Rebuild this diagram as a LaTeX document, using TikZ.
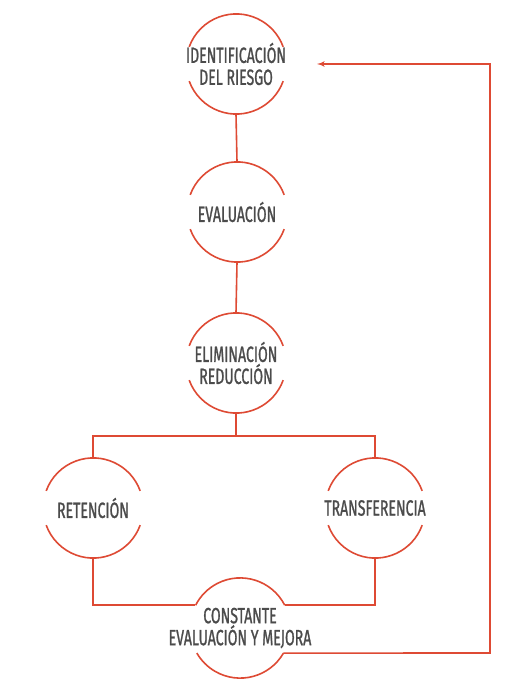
\documentclass[tikz,border=0pt]{standalone}
\usepackage{fontspec}
\setmainfont{Fira Sans}[FakeStretch=0.64]
\usetikzlibrary{arrows}

\definecolor{riskred}{RGB}{222,74,52}
\definecolor{labelgray}{RGB}{75,75,75}

% top and bottom arcs of a step circle, open on the sides
\newcommand{\steparcs}[3]{%
  \draw[line] (#1.#2) arc[start angle=#2, end angle=180-#2, radius=50pt];
  \draw[line] (#1.-#3) arc[start angle=-#3, end angle=-180+#3, radius=50pt];
}

\begin{document}
\begin{tikzpicture}[x=1pt, y=-1pt, >=latex',
    line/.style={draw=riskred, line width=1.6pt},
    stepnode/.style={shape=circle, minimum size=100pt, inner sep=0pt},
    steptext/.style={align=center, inner sep=0pt, text=labelgray,
      font=\fontsize{22}{22}\selectfont\addfontfeature{FakeBold=1}}]
    \fill[white] (0,0) rectangle (514,679);
    \useasboundingbox (0,0) rectangle (514,679);

    \node[stepnode] (ID) at (236,64) {};
    \node[stepnode] (EV) at (237,212) {};
    \node[stepnode] (EL) at (236,363) {};
    \node[stepnode] (RE) at (93,508) {};
    \node[stepnode] (TR) at (375,508) {};
    \node[stepnode] (CO) at (240,628) {};

    \node[steptext] (ID-t) at (ID) {IDENTIFICACIÓN\\DEL RIESGO};
    \node[steptext] (EV-t) at (EV) {EVALUACIÓN};
    \node[steptext] (EL-t) at (EL) {ELIMINACIÓN\\REDUCCIÓN};
    \node[steptext] (RE-t) at (RE) {RETENCIÓN};
    \node[steptext] (TR-t) at (TR) {TRANSFERENCIA};
    \node[steptext] (CO-t) at (CO) {CONSTANTE\\EVALUACIÓN Y MEJORA};

    \steparcs{ID}{20}{20}
    \steparcs{EV}{20}{20}
    \steparcs{EL}{20}{20}
    \steparcs{RE}{20}{20}
    \steparcs{TR}{20}{20}
    \steparcs{CO}{27}{30}

    \coordinate (split) at (236,436);
    \coordinate (back) at (490,653);

    \draw[line] (ID.south) -- (EV.north);
    \draw[line] (EV.south) -- (EL.north);
    \draw[line] (EL.south) -- (split);
    \draw[line] (RE.north) |- (split) -| (TR.north);
    \draw[line] (RE.south) |- (CO.153);
    \draw[line] (TR.south) |- (CO.27);
    \draw[line,->] (CO.-30) -- (back) |- (ID.east -| 317,0);
\end{tikzpicture}
\end{document}
